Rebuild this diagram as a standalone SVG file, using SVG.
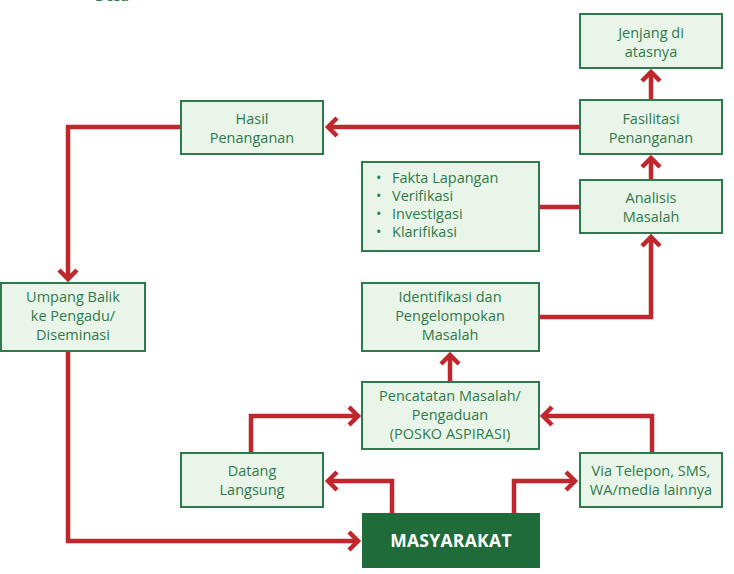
<svg xmlns="http://www.w3.org/2000/svg" width="734" height="574" viewBox="0 0 734 574">
<defs>
<style>
.box{fill:#e9f5e8;stroke:#2f7a4c;stroke-width:2}
.t{font-family:"Open Sans","Noto Sans",sans-serif;font-size:14.5px;fill:#2f7a4c;text-anchor:middle}
.tl{font-family:"Open Sans","Noto Sans",sans-serif;font-size:14.5px;fill:#2f7a4c}
.c{fill:none;stroke:#c0272d;stroke-width:4.5;stroke-linejoin:miter}
</style>
<marker id="ah" markerUnits="userSpaceOnUse" viewBox="-14 -12 18 24" markerWidth="18" markerHeight="24" refX="0" refY="0" orient="auto" overflow="visible">
<path d="M-9,-9 L0,0 L-9,9" fill="none" stroke="#c0272d" stroke-width="4.5" stroke-linejoin="miter"/>
</marker>
</defs>
<rect width="734" height="574" fill="#ffffff"/>
<text x="95" y="1" style="font-family:'Open Sans',sans-serif;font-size:14px;font-weight:bold;fill:#2f7a4c">Desa</text>

<g id="connectors">
<path class="c" d="M651,100 V72" marker-end="url(#ah)"/>
<path class="c" d="M579,127 H328" marker-end="url(#ah)"/>
<path class="c" d="M180,127 H68 V279" marker-end="url(#ah)"/>
<path class="c" d="M68,351 V541 H358" marker-end="url(#ah)"/>
<path class="c" d="M539,207 H579"/>
<path class="c" d="M651,180 V158" marker-end="url(#ah)"/>
<path class="c" d="M539,317 H651 V237" marker-end="url(#ah)"/>
<path class="c" d="M450,382 V355" marker-end="url(#ah)"/>
<path class="c" d="M251,453 V416 H358" marker-end="url(#ah)"/>
<path class="c" d="M652,453 V416 H543" marker-end="url(#ah)"/>
<path class="c" d="M392,513 V481 H328" marker-end="url(#ah)"/>
<path class="c" d="M514,513 V481 H575" marker-end="url(#ah)"/>
</g>

<g id="jenjang">
<rect class="box" x="580" y="14" width="142" height="54"/>
<text class="t" x="651" y="38">Jenjang di</text>
<text class="t" x="651" y="57">atasnya</text>
</g>
<g id="fasilitasi">
<rect class="box" x="580" y="100" width="142" height="54"/>
<text class="t" x="651" y="124">Fasilitasi</text>
<text class="t" x="651" y="143">Penanganan</text>
</g>
<g id="hasil">
<rect class="box" x="181" y="101" width="142" height="53"/>
<text class="t" x="252" y="124">Hasil</text>
<text class="t" x="252" y="143">Penanganan</text>
</g>
<g id="fakta">
<rect class="box" x="362" y="162" width="177" height="89"/>
<text class="tl" x="376" y="183">•</text><text class="tl" x="392" y="183">Fakta Lapangan</text>
<text class="tl" x="376" y="201">•</text><text class="tl" x="392" y="201">Verifikasi</text>
<text class="tl" x="376" y="219">•</text><text class="tl" x="392" y="219">Investigasi</text>
<text class="tl" x="376" y="237">•</text><text class="tl" x="392" y="237">Klarifikasi</text>
</g>
<g id="analisis">
<rect class="box" x="580" y="180" width="142" height="53"/>
<text class="t" x="651" y="203">Analisis</text>
<text class="t" x="651" y="222">Masalah</text>
</g>
<g id="umpang">
<rect class="box" x="1" y="283" width="144" height="68"/>
<text class="t" x="73" y="302">Umpang Balik</text>
<text class="t" x="73" y="321">ke Pengadu/</text>
<text class="t" x="73" y="340">Diseminasi</text>
</g>
<g id="identifikasi">
<rect class="box" x="362" y="283" width="177" height="68"/>
<text class="t" x="450" y="302">Identifikasi dan</text>
<text class="t" x="450" y="321">Pengelompokan</text>
<text class="t" x="450" y="340">Masalah</text>
</g>
<g id="pencatatan">
<rect class="box" x="362" y="382" width="177" height="67"/>
<text class="t" x="450" y="401">Pencatatan Masalah/</text>
<text class="t" x="450" y="420">Pengaduan</text>
<text class="t" x="450" y="439">(POSKO ASPIRASI)</text>
</g>
<g id="datang">
<rect class="box" x="181" y="453" width="142" height="54"/>
<text class="t" x="252" y="476">Datang</text>
<text class="t" x="252" y="495">Langsung</text>
</g>
<g id="via">
<rect class="box" x="580" y="453" width="142" height="54"/>
<text class="t" x="651" y="476">Via Telepon, SMS,</text>
<text class="t" x="651" y="495">WA/media lainnya</text>
</g>
<g id="masyarakat">
<rect x="362" y="513" width="178" height="55" fill="#1f6b3a"/>
<text x="451" y="547" style="font-family:'Open Sans','Noto Sans',sans-serif;font-size:17.5px;font-weight:bold;letter-spacing:0.3px;fill:#ffffff;text-anchor:middle">MASYARAKAT</text>
</g>
</svg>
